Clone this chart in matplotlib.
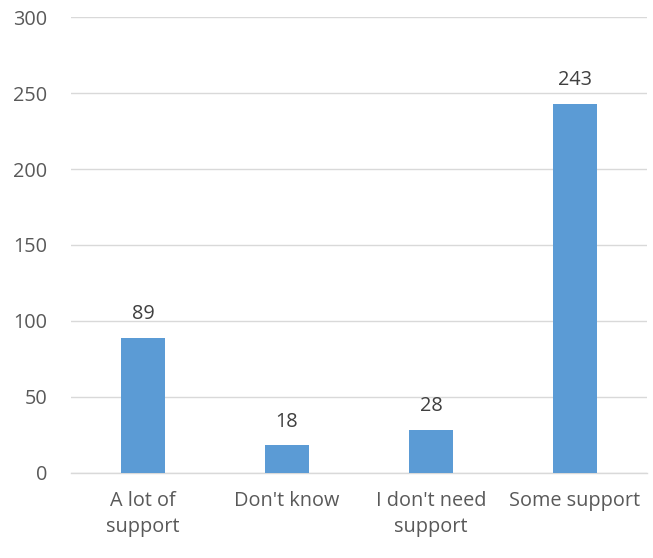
import matplotlib
matplotlib.use("Agg")
import matplotlib.pyplot as plt

categories = ["A lot of\nsupport", "Don't know", "I don't need\nsupport", "Some support"]
values = [89, 18, 28, 243]
yticks = [0, 50, 100, 150, 200, 250, 300]

plt.rcParams['font.family'] = ['Open Sans', 'DejaVu Sans']

fig = plt.figure(figsize=(6.53, 5.58), dpi=100)
ax = fig.add_axes([0.1087, 0.1529, 0.8821, 0.8163])

x = list(range(len(categories)))
ax.bar(x, values, width=0.31, color="#5B9BD5", zorder=3)
for xi, v in zip(x, values):
    ax.annotate(str(v), xy=(xi, v), xytext=(0, 13.5), textcoords="offset points",
                ha="center", va="baseline", fontsize=14.3, color="#404040")

ax.set_xlim(-0.5, 3.5)
ax.set_ylim(0, 300)
ax.set_yticks(yticks)
ax.set_xticks(x)
ax.set_xticklabels(categories, fontsize=14.3, color="#595959", linespacing=1.45)
ax.tick_params(axis="y", labelsize=14.3, labelcolor="#595959", length=0, pad=17)
ax.tick_params(axis="x", length=0, pad=13)
ax.grid(axis="y", color="#D9D9D9", linewidth=1.0, zorder=0)
for s in ["top", "right", "left"]:
    ax.spines[s].set_visible(False)
ax.spines["bottom"].set_color("#D9D9D9")
ax.spines["bottom"].set_linewidth(1.0)

fig.savefig("out.png", dpi=100)
